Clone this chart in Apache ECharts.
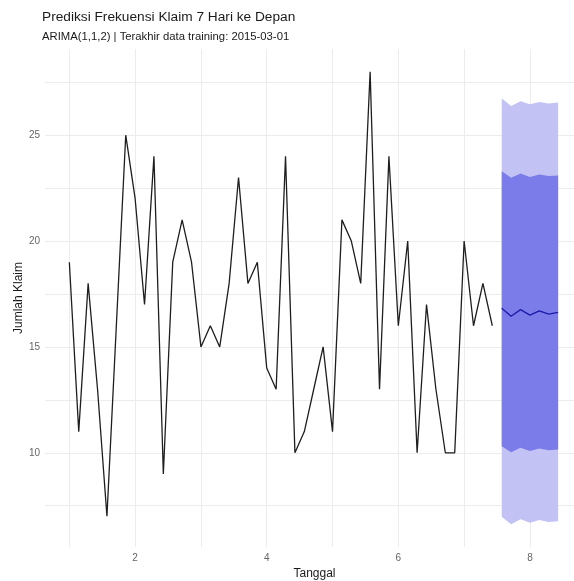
<!DOCTYPE html>
<html>
<head>
<meta charset="utf-8">
<script src="https://cdn.jsdelivr.net/npm/echarts@6/dist/echarts.min.js"></script>
<style>
  html, body { margin: 0; padding: 0; background: #fff; }
  #chart { width: 574px; height: 581px; }
</style>
</head>
<body>
<div id="chart"></div>
<script>
// data training (jumlah klaim harian), sumbu x = minggu ke- (frekuensi 7)
const claims = [19, 11, 18, 13, 7, 16, 25, 22, 17, 24, 9, 19, 21, 19, 15, 16, 15, 18, 23, 18,
  19, 14, 13, 24, 10, 11, 13, 15, 11, 21, 20, 18, 28, 13, 24, 16, 20, 10, 17, 13,
  10, 10, 20, 16, 18, 16]
// prediksi 7 hari
const fcMean = [16.83, 16.45, 16.76, 16.5, 16.7, 16.55, 16.63]
const lo95 = [6.98, 6.62, 6.86, 6.7, 6.82, 6.73, 6.77]
const lo80 = [10.31, 10.03, 10.24, 10.08, 10.2, 10.12, 10.16]
const hi80 = [23.3, 22.99, 23.19, 23.03, 23.14, 23.07, 23.1]
const hi95 = [26.73, 26.38, 26.6, 26.46, 26.57, 26.5, 26.54]
const xTicks = [2, 4, 6, 8]
const yTicks = [10, 15, 20, 25]
const xGrid = [1, 2, 3, 4, 5, 6, 7, 8]
const yGrid = [7.5, 10, 12.5, 15, 17.5, 20, 22.5, 25, 27.5]

const toX = i => 1 + i / 7
const histData = claims.map((v, i) => [toX(i), v])
const n0 = claims.length
const fcX = fcMean.map((v, i) => toX(n0 + i))

const light = '#c2c2f5'
const dark = '#7b7bea'

// ribbon: atas dari kiri ke kanan, bawah dari kanan ke kiri
function ribbon(api, upper, lower) {
  const top = upper.map((v, i) => api.coord([fcX[i], v]))
  const bot = lower.map((v, i) => api.coord([fcX[i], v])).reverse()
  return top.concat(bot)
}

let mycharts = echarts.init(document.getElementById('chart'))
let option = {
  animation: false,
  backgroundColor: '#ffffff',
  title: [
    {
      text: 'Prediksi Frekuensi Klaim 7 Hari ke Depan',
      left: 42, top: 10, padding: 0,
      textStyle: { fontSize: 13.7, fontWeight: 'normal', color: '#1a1a1a', fontFamily: 'Liberation Sans' }
    },
    {
      text: 'ARIMA(1,1,2) | Terakhir data training: 2015-03-01',
      left: 42, top: 31, padding: 0,
      textStyle: { fontSize: 11.3, fontWeight: 'normal', color: '#1a1a1a', fontFamily: 'Liberation Sans' }
    }
  ],
  grid: { left: 45, right: 0, top: 49, bottom: 34, containLabel: false, outerBoundsMode: 'none' },
  xAxis: {
    type: 'value',
    min: 0.63,
    max: 8.67,
    name: 'Tanggal',
    nameLocation: 'middle',
    nameGap: 20,
    nameTextStyle: { fontSize: 12, color: '#1a1a1a', fontFamily: 'Liberation Sans', padding: [0, 0, 0, 10] },
    axisLine: { show: false },
    axisTick: { show: false, customValues: xGrid },
    axisLabel: { customValues: xTicks, fontSize: 10, color: '#666', margin: 6, fontFamily: 'Liberation Sans' },
    splitLine: { show: true, lineStyle: { color: '#ececec', width: 1 } }
  },
  yAxis: {
    type: 'value',
    min: 5.55,
    max: 29.07,
    name: 'Jumlah Klaim',
    nameLocation: 'middle',
    nameGap: 20,
    nameMoveOverlap: false,
    nameRotate: 90,
    nameTextStyle: { fontSize: 12, color: '#1a1a1a', fontFamily: 'Liberation Sans' },
    axisLine: { show: false },
    axisTick: { show: false, customValues: yGrid },
    axisLabel: { customValues: yTicks, fontSize: 10, color: '#666', margin: 5, fontFamily: 'Liberation Sans' },
    splitLine: { show: true, lineStyle: { color: '#ececec', width: 1 } }
  },
  series: [
    {
      name: 'interval', type: 'custom',
      data: [[fcX[0], lo95[0]]],
      renderItem: function(params, api) {
        return {
          type: 'group',
          children: [
            { type: 'polygon', shape: { points: ribbon(api, hi95, lo95) }, style: { fill: light } },
            { type: 'polygon', shape: { points: ribbon(api, hi80, lo80) }, style: { fill: dark } }
          ]
        }
      }
    },
    {
      name: 'prediksi', type: 'line', data: fcMean.map((v, i) => [fcX[i], v]),
      showSymbol: false, lineStyle: { color: '#1c1ca8', width: 1.3 }
    },
    {
      name: 'klaim', type: 'line', data: histData,
      showSymbol: false, lineStyle: { color: '#1e1e1e', width: 1.3 }
    }
  ]
}
mycharts.setOption(option)
window.addEventListener('resize', function() {
  mycharts.resize()
})
</script>
</body>
</html>
